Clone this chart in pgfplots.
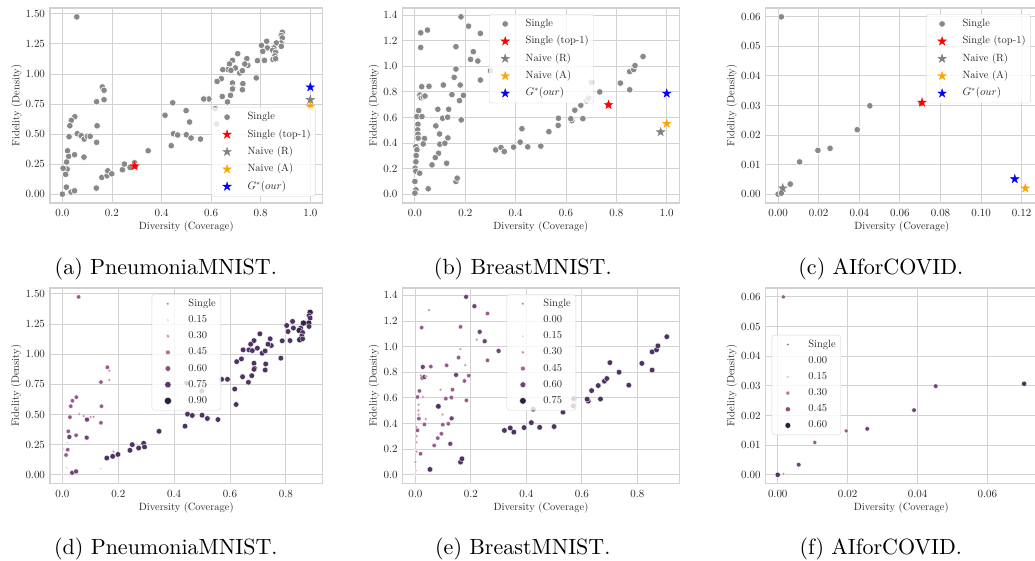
\documentclass[border=0pt]{standalone}
\usepackage{pgfplots}
\usepackage{pgfplotstable}
\pgfplotsset{compat=1.18}

\definecolor{gridc}{HTML}{D2D2D2}
\definecolor{txtc}{HTML}{262626}
\definecolor{ptgray}{HTML}{888888}
\definecolor{stgray}{HTML}{808080}
\definecolor{storange}{HTML}{FFA500}
\definecolor{stred}{HTML}{FF0000}
\definecolor{stblue}{HTML}{0000FF}
\definecolor{ha}{HTML}{E2B0B6}
\definecolor{hb}{HTML}{C98DA4}
\definecolor{hc}{HTML}{965A8C}
\definecolor{hd}{HTML}{6E4476}
\definecolor{he}{HTML}{4E3262}
\definecolor{hf}{HTML}{342244}
\definecolor{ho}{HTML}{F3E4E0}
\definecolor{hs}{HTML}{8A5583}
\definecolor{l15}{HTML}{E3B3B6}
\definecolor{l30}{HTML}{D192A2}
\definecolor{l45}{HTML}{B3708F}
\definecolor{l60}{HTML}{8C4F82}
\definecolor{l75}{HTML}{5B3669}
\definecolor{l90}{HTML}{2D1E3E}
\definecolor{m30}{HTML}{CC8BA0}
\definecolor{m45}{HTML}{A6628D}
\definecolor{m60}{HTML}{6E4273}
\definecolor{n15}{HTML}{DEA4AD}
\definecolor{n30}{HTML}{C07598}
\definecolor{n45}{HTML}{8A4F80}

\newcommand{\fs}{\fontsize{10.5}{12.6}\selectfont}
\newcommand{\subcap}[1]{\scalebox{2.2}{\fontsize{10}{12}\selectfont #1}}

\pgfdeclareplotmark{fstar}{%
  \pgfpathmoveto{\pgfpointpolar{90}{\pgfplotmarksize}}%
  \pgfpathlineto{\pgfpointpolar{126}{0.382*\pgfplotmarksize}}%
  \pgfpathlineto{\pgfpointpolar{162}{\pgfplotmarksize}}%
  \pgfpathlineto{\pgfpointpolar{198}{0.382*\pgfplotmarksize}}%
  \pgfpathlineto{\pgfpointpolar{234}{\pgfplotmarksize}}%
  \pgfpathlineto{\pgfpointpolar{270}{0.382*\pgfplotmarksize}}%
  \pgfpathlineto{\pgfpointpolar{306}{\pgfplotmarksize}}%
  \pgfpathlineto{\pgfpointpolar{342}{0.382*\pgfplotmarksize}}%
  \pgfpathlineto{\pgfpointpolar{18}{\pgfplotmarksize}}%
  \pgfpathlineto{\pgfpointpolar{54}{0.382*\pgfplotmarksize}}%
  \pgfpathclose
  \pgfusepathqfillstroke
}

\pgfplotstableread{
x y c
0.058 1.475 c
0.161 0.892 c
0.168 0.864 b
0.168 0.786 b
0.138 0.769 c
0.050 0.644 c
0.036 0.614 c
0.030 0.569 c
0.140 0.569 c
0.027 0.478 c
0.060 0.503 b
0.076 0.486 b
0.088 0.458 d
0.101 0.481 b
0.112 0.481 b
0.138 0.431 c
0.021 0.361 c
0.025 0.314 d
0.049 0.328 c
0.087 0.308 d
0.017 0.267 a
0.019 0.208 c
0.003 0.215 a
0.013 0.164 c
0.016 0.058 a
0.000 0.000 a
0.035 0.017 d
0.049 0.028 d
0.137 0.050 a
0.159 0.139 e
0.180 0.153 e
0.183 0.194 b
0.199 0.169 e
0.242 0.203 e
0.250 0.250 e
0.273 0.222 e
0.291 0.261 e
0.294 0.231 e
0.346 0.361 e
0.439 0.403 e
0.448 0.503 e
0.414 0.656 a
0.445 0.760 e
0.499 0.695 e
0.513 0.600 b
0.465 0.492 e
0.500 0.494 e
0.519 0.467 e
0.557 0.458 e
0.887 1.347 f
0.883 1.320 e
0.887 1.300 e
0.882 1.258 f
0.863 1.258 f
0.883 1.230 e
0.853 1.217 e
0.824 1.272 e
0.803 1.238 e
0.827 1.217 e
0.808 1.188 e
0.848 1.197 f
0.860 1.180 e
0.857 1.150 e
0.850 1.120 f
0.860 1.127 e
0.815 1.113 e
0.787 1.111 e
0.782 0.967 e
0.707 1.169 e
0.744 1.128 e
0.748 1.072 e
0.736 1.083 e
0.686 1.113 e
0.698 1.050 e
0.674 1.083 e
0.668 1.036 e
0.680 1.030 e
0.715 1.008 e
0.726 1.027 e
0.647 1.036 e
0.641 0.961 e
0.624 0.938 e
0.686 0.925 e
0.688 0.883 e
0.686 0.875 e
0.728 0.919 e
0.726 0.869 e
0.678 0.822 e
0.645 0.813 e
0.666 0.767 e
0.591 0.792 e
0.570 0.792 e
0.617 0.711 e
0.622 0.583 e
}\tabA

\pgfplotstableread{
x y c
0.183 1.388 d
0.213 1.315 d
0.260 1.258 c
0.050 1.284 b
0.023 1.263 o
0.023 1.148 c
0.163 1.154 c
0.232 1.115 d
0.221 1.055 b
0.250 1.042 d
0.300 0.966 d
0.163 0.979 b
0.156 0.914 c
0.260 0.893 c
0.027 0.841 d
0.056 0.844 c
0.113 0.854 c
0.180 0.854 b
0.147 0.779 d
0.193 0.773 c
0.177 0.732 c
0.020 0.776 b
0.025 0.755 c
0.033 0.763 d
0.040 0.768 b
0.091 0.664 b
0.134 0.664 c
0.015 0.654 c
0.008 0.607 c
0.028 0.607 b
0.110 0.594 c
0.130 0.602 c
0.184 0.581 c
0.083 0.534 e
0.012 0.547 b
0.011 0.503 b
0.012 0.469 b
0.013 0.438 c
0.098 0.471 b
0.038 0.435 b
0.131 0.440 d
0.099 0.391 c
0.119 0.398 c
0.033 0.393 c
0.004 0.372 b
0.008 0.347 c
0.005 0.302 b
0.004 0.253 b
0.001 0.203 a
0.004 0.180 b
0.019 0.164 c
0.094 0.320 c
0.081 0.286 c
0.068 0.229 c
0.126 0.242 d
0.000 0.099 b
0.004 0.034 a
0.000 0.008 a
0.053 0.042 e
0.163 0.099 e
0.168 0.125 e
0.321 0.346 e
0.342 0.365 e
0.355 0.333 e
0.392 0.368 e
0.418 0.407 e
0.425 0.512 e
0.448 0.370 e
0.500 0.376 e
0.532 0.489 e
0.570 0.594 e
0.569 0.538 e
0.623 0.575 e
0.619 0.590 e
0.635 0.657 e
0.659 0.696 e
0.667 0.591 e
0.681 0.730 e
0.690 0.751 e
0.701 0.875 e
0.734 0.800 e
0.769 0.699 e
0.816 0.869 e
0.853 0.817 e
0.853 0.959 e
0.869 0.975 e
0.874 1.006 e
0.906 1.077 e
}\tabB

\pgfplotstableread{
x y c
0.0016 0.0600 c
0.0000 0.0000 e
0.0016 0.0003 b
0.0060 0.0034 d
0.0106 0.0109 c
0.0196 0.0148 c
0.0256 0.0155 d
0.0390 0.0218 d
0.0452 0.0299 d
0.0705 0.0307 e
}\tabC

\pgfplotsset{
  base/.style={
    scale only axis, anchor=north west,
    axis line style={draw=gridc, line width=1.1pt},
    grid=major, major grid style={draw=gridc, line width=0.9pt},
    major tick length=0pt, tick style={draw=none},
    tick label style={font=\fs, text=txtc},
    yticklabel style={xshift=-1.5pt},
    xticklabel style={yshift=-3pt},
    label style={font=\fs, text=txtc},
    xlabel={Diversity (Coverage)}, ylabel={Fidelity (Density)},
    scaled ticks=false,
    legend cell align=left,
    legend style={fill=white, fill opacity=0.8, draw opacity=0.9, text opacity=1,
      draw=gridc, rounded corners=2.5pt, font=\fs, text=txtc, inner xsep=5pt,
      nodes={anchor=west, inner sep=0pt, text height=7.5pt, text depth=2.5pt},
      column sep=14.5pt, anchor=north west},
    legend image code/.code={\path[draw=none, fill=none] (-11pt,-1pt) rectangle (6pt,1pt);
      \draw[##1, fill opacity=1, draw opacity=1, sharp corners] plot coordinates {(0pt,0pt)};},
  },
  toprow/.style={base, height=195pt,
    xlabel style={at={(axis description cs:0.5,-0.1215)}, anchor=center},
    legend style={inner ysep=4.7pt, row sep=7.35pt}},
  botrow/.style={base, height=195.7pt,
    xlabel style={at={(axis description cs:0.5,-0.1257)}, anchor=center},
    legend style={inner ysep=4.4pt, row sep=6.17pt}},
  grayp/.style={only marks, mark=*, mark size=3.3pt, color=ptgray,
    mark options={fill=ptgray, draw=white, line width=0.6pt}},
  starp/.style={only marks, mark=fstar, mark size=4.6pt, color=#1,
    mark options={fill=#1, draw=#1, line width=0.3pt}},
  dotl/.style 2 args={only marks, mark=*, mark size=#2, mark options={fill=#1, draw=white, line width=0.3pt}},
  classesAB/.style={scatter, only marks, mark=*, scatter src=explicit symbolic,
    scatter/classes={
      o={mark size=0.8pt, fill=ho, draw=white},
      a={mark size=1.1pt, fill=ha, draw=white},
      b={mark size=1.6pt, fill=hb, draw=white},
      c={mark size=2.2pt, fill=hc, draw=white},
      d={mark size=2.5pt, fill=hd, draw=white},
      e={mark size=2.8pt, fill=he, draw=white},
      f={mark size=3.1pt, fill=hf, draw=white}},
    mark options={line width=0.3pt}},
  classesC/.style={scatter, only marks, mark=*, scatter src=explicit symbolic,
    scatter/classes={
      b={mark size=1.6pt, fill=hb, draw=white},
      c={mark size=2.0pt, fill=hc, draw=white},
      d={mark size=2.3pt, fill=hd, draw=white},
      e={mark size=2.6pt, fill=he, draw=white}},
    mark options={line width=0.3pt}},
}

\newcommand{\toplegend}{%
  \addlegendimage{grayp}\addlegendentry{Single}
  \addlegendimage{starp=stred}\addlegendentry{Single (top-1)}
  \addlegendimage{starp=stgray}\addlegendentry{Naive (R)}
  \addlegendimage{starp=storange}\addlegendentry{Naive (A)}
  \addlegendimage{starp=stblue}\addlegendentry{$G^{*}(our)$}
}

\begin{document}
\begin{tikzpicture}
\useasboundingbox (0pt,0pt) rectangle (1035pt,560pt);
\fill[white] (0pt,0pt) rectangle (1035pt,560pt);
\clip (0pt,0pt) rectangle (1035pt,560pt);

% (a)
\begin{axis}[toprow, at={(50pt,552pt)}, width=272.7pt,
  xmin=-0.05, xmax=1.05, ymin=-0.0738, ymax=1.549,
  xtick={0,0.2,0.4,0.6,0.8,1}, ytick={0,0.25,0.5,0.75,1,1.25,1.5},
  xticklabel style={/pgf/number format/.cd, fixed, fixed zerofill, precision=1},
  yticklabel style={/pgf/number format/.cd, fixed, fixed zerofill, precision=2},
  ylabel style={at={(axis description cs:-0.122,0.5)}, anchor=center},
  legend style={at={(axis description cs:0.590,0.491)}}]
\addplot[grayp, forget plot] table[x=x,y=y] {\tabA};
\addplot[starp=stred, forget plot] coordinates {(0.291,0.234)};
\addplot[starp=stgray, forget plot] coordinates {(1.0,0.785)};
\addplot[starp=storange, forget plot] coordinates {(1.0,0.730)};
\addplot[starp=stblue, forget plot] coordinates {(1.0,0.890)};
\toplegend
\end{axis}

% (b)
\begin{axis}[toprow, at={(402.3pt,552pt)}, width=277pt,
  xmin=-0.05, xmax=1.05, ymin=-0.0694, ymax=1.457,
  xtick={0,0.2,0.4,0.6,0.8,1}, ytick={0,0.2,0.4,0.6,0.8,1,1.2,1.4},
  xticklabel style={/pgf/number format/.cd, fixed, fixed zerofill, precision=1},
  yticklabel style={/pgf/number format/.cd, fixed, fixed zerofill, precision=1},
  ylabel style={at={(axis description cs:-0.102,0.5)}, anchor=center},
  legend style={at={(axis description cs:0.313,0.969)}}]
\addplot[grayp, forget plot] table[x=x,y=y] {\tabB};
\addplot[starp=stred, forget plot] coordinates {(0.769,0.699)};
\addplot[starp=stgray, forget plot] coordinates {(0.976,0.486)};
\addplot[starp=storange, forget plot] coordinates {(1.0,0.552)};
\addplot[starp=stblue, forget plot] coordinates {(1.0,0.788)};
\toplegend
\end{axis}

% (c)
\begin{axis}[toprow, at={(765.7pt,552pt)}, width=272pt,
  xmin=-0.0061, xmax=0.1279, ymin=-0.003, ymax=0.063,
  xtick={0,0.02,0.04,0.06,0.08,0.1,0.12}, ytick={0,0.01,0.02,0.03,0.04,0.05,0.06},
  xticklabel style={/pgf/number format/.cd, fixed, fixed zerofill, precision=2},
  yticklabel style={/pgf/number format/.cd, fixed, fixed zerofill, precision=2},
  ylabel style={at={(axis description cs:-0.125,0.5)}, anchor=center},
  legend style={at={(axis description cs:0.589,0.969)}}]
\addplot[grayp, forget plot] table[x=x,y=y] {\tabC};
\addplot[starp=stred, forget plot] coordinates {(0.0709,0.0310)};
\addplot[starp=stgray, forget plot] coordinates {(0.0023,0.0020)};
\addplot[starp=storange, forget plot] coordinates {(0.1218,0.0020)};
\addplot[starp=stblue, forget plot] coordinates {(0.1166,0.0051)};
\toplegend
\end{axis}

% (d)
\begin{axis}[botrow, at={(50pt,272pt)}, width=272.7pt,
  xmin=-0.0444, xmax=0.932, ymin=-0.0738, ymax=1.549,
  xtick={0,0.2,0.4,0.6,0.8}, ytick={0,0.25,0.5,0.75,1,1.25,1.5},
  xticklabel style={/pgf/number format/.cd, fixed, fixed zerofill, precision=1},
  yticklabel style={/pgf/number format/.cd, fixed, fixed zerofill, precision=2},
  ylabel style={at={(axis description cs:-0.124,0.5)}, anchor=center},
  legend style={at={(axis description cs:0.373,0.968)}}]
\addplot[classesAB, forget plot] table[x=x,y=y,meta=c] {\tabA};
\addlegendimage{dotl={hs}{1.4pt}}\addlegendentry{Single}
\addlegendimage{dotl={l15}{1.3pt}}\addlegendentry{0.15}
\addlegendimage{dotl={l30}{1.9pt}}\addlegendentry{0.30}
\addlegendimage{dotl={l45}{2.4pt}}\addlegendentry{0.45}
\addlegendimage{dotl={l60}{2.8pt}}\addlegendentry{0.60}
\addlegendimage{dotl={l75}{3.2pt}}\addlegendentry{0.75}
\addlegendimage{dotl={l90}{3.6pt}}\addlegendentry{0.90}
\end{axis}

% (e)
\begin{axis}[botrow, at={(402.7pt,272pt)}, width=276.6pt,
  xmin=-0.0453, xmax=0.951, ymin=-0.0694, ymax=1.457,
  xtick={0,0.2,0.4,0.6,0.8}, ytick={0,0.2,0.4,0.6,0.8,1,1.2,1.4},
  xticklabel style={/pgf/number format/.cd, fixed, fixed zerofill, precision=1},
  yticklabel style={/pgf/number format/.cd, fixed, fixed zerofill, precision=1},
  ylabel style={at={(axis description cs:-0.104,0.5)}, anchor=center},
  legend style={at={(axis description cs:0.376,0.968)}}]
\addplot[classesAB, forget plot] table[x=x,y=y,meta=c] {\tabB};
\addlegendimage{dotl={hs}{1.3pt}}\addlegendentry{Single}
\addlegendimage{dotl={ho}{0.5pt}}\addlegendentry{0.00}
\addlegendimage{dotl={l15}{1.2pt}}\addlegendentry{0.15}
\addlegendimage{dotl={m30}{1.9pt}}\addlegendentry{0.30}
\addlegendimage{dotl={m45}{2.4pt}}\addlegendentry{0.45}
\addlegendimage{dotl={m60}{2.9pt}}\addlegendentry{0.60}
\addlegendimage{dotl={l90}{3.3pt}}\addlegendentry{0.75}
\end{axis}

% (f)
\begin{axis}[botrow, at={(765.7pt,272pt)}, width=271pt,
  xmin=-0.00344, xmax=0.0741, ymin=-0.003, ymax=0.063,
  xtick={0,0.02,0.04,0.06,0.08}, ytick={0,0.01,0.02,0.03,0.04,0.05,0.06},
  xticklabel style={/pgf/number format/.cd, fixed, fixed zerofill, precision=2},
  yticklabel style={/pgf/number format/.cd, fixed, fixed zerofill, precision=2},
  ylabel style={at={(axis description cs:-0.125,0.5)}, anchor=center},
  legend style={at={(axis description cs:0.022,0.760)}}]
\addplot[classesC, forget plot] table[x=x,y=y,meta=c] {\tabC};
\addlegendimage{dotl={hs}{1.4pt}}\addlegendentry{Single}
\addlegendimage{dotl={ho}{0.5pt}}\addlegendentry{0.00}
\addlegendimage{dotl={n15}{1.4pt}}\addlegendentry{0.15}
\addlegendimage{dotl={n30}{2.0pt}}\addlegendentry{0.30}
\addlegendimage{dotl={n45}{2.5pt}}\addlegendentry{0.45}
\addlegendimage{dotl={l90}{2.9pt}}\addlegendentry{0.60}
\end{axis}

\node[anchor=base, inner sep=0pt] at (165.8pt,285.6pt) {\subcap{(a) PneumoniaMNIST.}};
\node[anchor=base, inner sep=0pt] at (522.8pt,285.6pt) {\subcap{(b) BreastMNIST.}};
\node[anchor=base, inner sep=0pt] at (880.8pt,285.6pt) {\subcap{(c) AIforCOVID.}};
\node[anchor=base, inner sep=0pt] at (165.8pt,6pt) {\subcap{(d) PneumoniaMNIST.}};
\node[anchor=base, inner sep=0pt] at (522.8pt,6pt) {\subcap{(e) BreastMNIST.}};
\node[anchor=base, inner sep=0pt] at (880.8pt,6pt) {\subcap{(f) AIforCOVID.}};
\end{tikzpicture}
\end{document}
